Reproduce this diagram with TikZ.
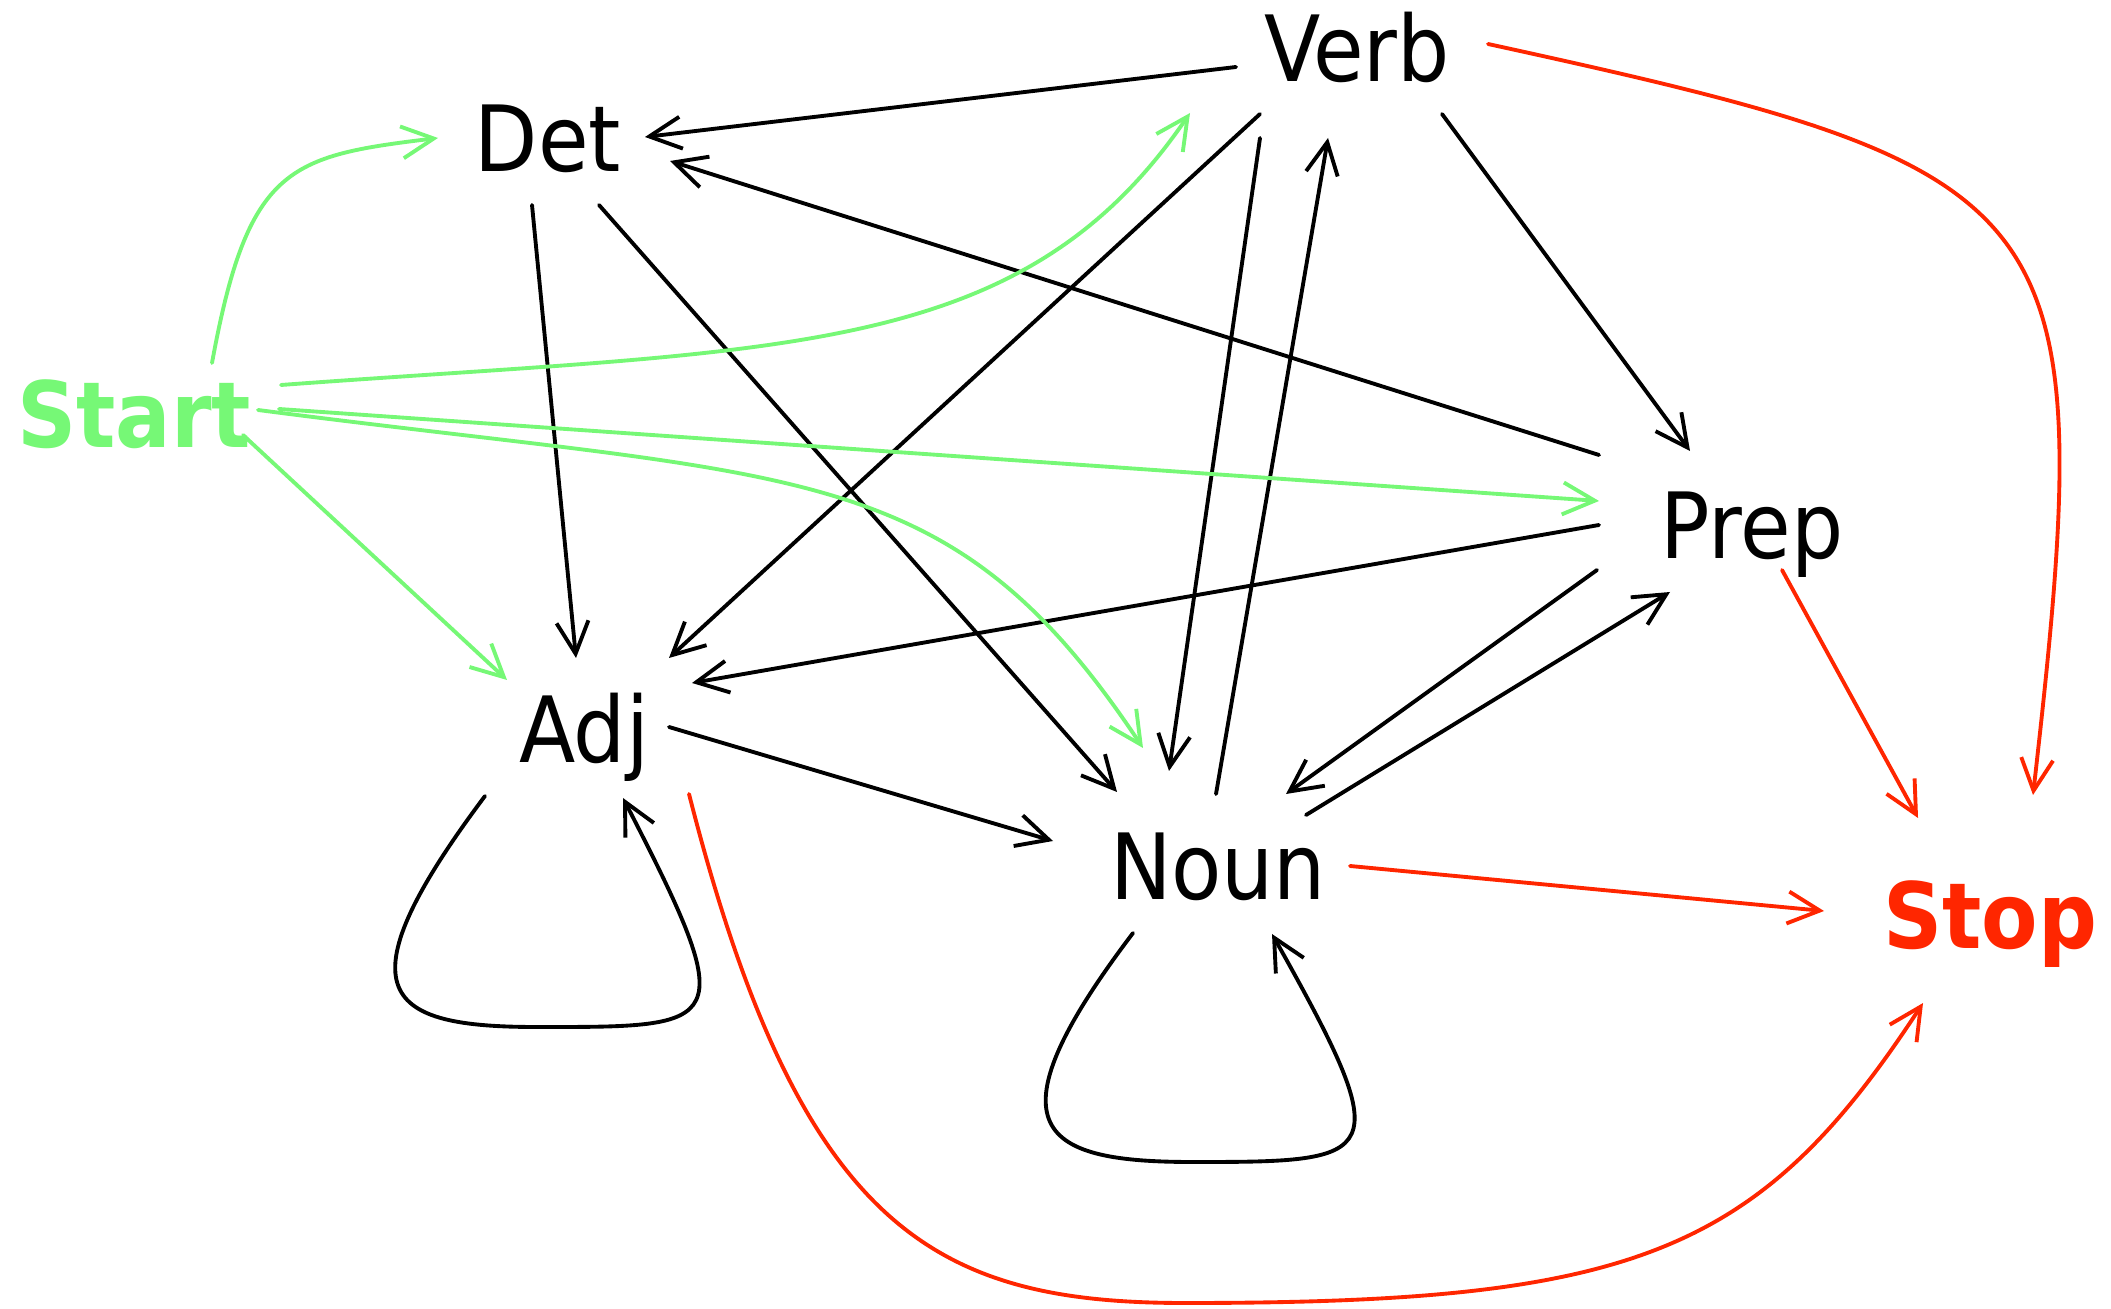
\documentclass[tikz,border=0pt]{standalone}
\usepackage{fontspec}
\setmainfont{DejaVu Sans Condensed}
\usetikzlibrary{arrows.meta}
\definecolor{startgreen}{RGB}{118,248,118}
\definecolor{stopred}{RGB}{255,38,0}
\begin{document}
\begin{tikzpicture}[tag/.style={anchor=base,inner sep=0pt,font=\fontsize{26}{30}\selectfont},
				trans/.style={->,line width=1.1pt},
				fromstart/.style={trans,startgreen},
				tostop/.style={trans,stopred},
				>={Straight Barb[length=3.2mm,width=3.2mm]},
				line cap=round, line join=round]
				\useasboundingbox (0,0) rectangle (21.11,-13.09);
				\node[tag,text=startgreen,font=\fontsize{26}{30}\selectfont\bfseries] (start) at (1.34,-4.48) {Start};
				\node[tag] (det) at (5.48,-1.72) {Det};
				\node[tag] (verb) at (13.57,-0.82) {Verb};
				\node[tag] (prep) at (17.52,-5.59) {Prep};
				\node[tag] (adj) at (5.84,-7.63) {Adj};
				\node[tag] (noun) at (12.18,-9.00) {Noun};
				\node[tag,text=stopred,font=\fontsize{26}{30}\selectfont\bfseries] (stop) at (19.90,-9.48) {Stop};
				\coordinate (low) at (11.85,-13.03);
				% transitions between the tags
				\draw[trans] ([shift={(-1.21,0.15)}]verb.base) -- ([shift={(0.97,0.35)}]det.base);
				\draw[trans] ([shift={(-1.53,1.04)}]prep.base) -- ([shift={(1.22,0.11)}]det.base);
				\draw[trans] ([shift={(-0.16,-0.33)}]det.base) -- ([shift={(-0.08,1.05)}]adj.base);
				\draw[trans] ([shift={(0.51,-0.33)}]det.base) -- ([shift={(-1.01,1.08)}]noun.base);
				\draw[trans] ([shift={(-0.97,-0.32)}]verb.base) -- ([shift={(0.85,1.05)}]adj.base);
				\draw[trans] ([shift={(-0.97,-0.56)}]verb.base) -- ([shift={(-0.49,1.29)}]noun.base);
				\draw[trans] ([shift={(-0.02,1.06)}]noun.base) -- ([shift={(-0.29,-0.56)}]verb.base);
				\draw[trans] ([shift={(0.85,-0.32)}]verb.base) -- ([shift={(-0.62,1.08)}]prep.base);
				\draw[trans] ([shift={(-1.53,0.34)}]prep.base) -- ([shift={(1.08,0.80)}]adj.base);
				\draw[trans] ([shift={(-1.55,-0.11)}]prep.base) -- ([shift={(0.68,1.06)}]noun.base);
				\draw[trans] ([shift={(0.88,0.85)}]noun.base) -- ([shift={(-0.82,-0.33)}]prep.base);
				\draw[trans] ([shift={(0.85,0.36)}]adj.base) -- ([shift={(-1.65,0.59)}]noun.base);
				% self loops
				\draw[trans] ([shift={(-0.99,-0.33)}]adj.base) .. controls +(-1.5,-2.0) and +(-1.5,0) .. ([shift={(-0.47,-2.64)}]adj.base)
					.. controls +(1.9,0) and +(1.19,-2.31) .. ([shift={(0.39,-0.35)}]adj.base);
				\draw[trans] ([shift={(-0.85,-0.33)}]noun.base) .. controls +(-1.51,-1.99) and +(-1.5,0) .. ([shift={(-0.25,-2.62)}]noun.base)
					.. controls +(1.9,0) and +(1.27,-2.26) .. ([shift={(0.54,-0.34)}]noun.base);
				% out of start
				\draw[fromstart] ([shift={(0.78,0.85)}]start.base) .. controls +(0.36,1.97) and +(-1.49,-0.18) .. ([shift={(-1.10,0.34)}]det.base);
				\draw[fromstart] ([shift={(1.47,0.63)}]start.base) .. controls +(5.0,0.37) and +(-1.69,-2.48) .. ([shift={(-1.67,-0.31)}]verb.base);
				\draw[fromstart] ([shift={(1.45,0.39)}]start.base) -- ([shift={(-1.53,0.58)}]prep.base);
				\draw[fromstart] ([shift={(1.24,0.38)}]start.base) .. controls +(5.46,-0.71) and +(-1.94,2.92) .. ([shift={(-0.75,1.52)}]noun.base);
				\draw[fromstart] ([shift={(1.09,0.13)}]start.base) -- ([shift={(-0.77,0.83)}]adj.base);
				% into stop
				\draw[tostop] ([shift={(1.31,0.38)}]verb.base) .. controls +(5.86,-1.28) and +(0.68,5.97) .. ([shift={(0.43,1.53)}]stop.base);
				\draw[tostop] ([shift={(0.30,-0.11)}]prep.base) -- ([shift={(-0.72,1.30)}]stop.base);
				\draw[tostop] ([shift={(1.32,0.34)}]noun.base) -- ([shift={(-1.66,0.37)}]stop.base);
				\draw[tostop] ([shift={(1.05,-0.31)}]adj.base) .. controls +(1.11,-4.36) and +(-2.5,0) .. (low)
					.. controls +(4.5,0) and +(-1.64,-2.51) .. ([shift={(-0.67,-0.55)}]stop.base);
\end{tikzpicture}
\end{document}
